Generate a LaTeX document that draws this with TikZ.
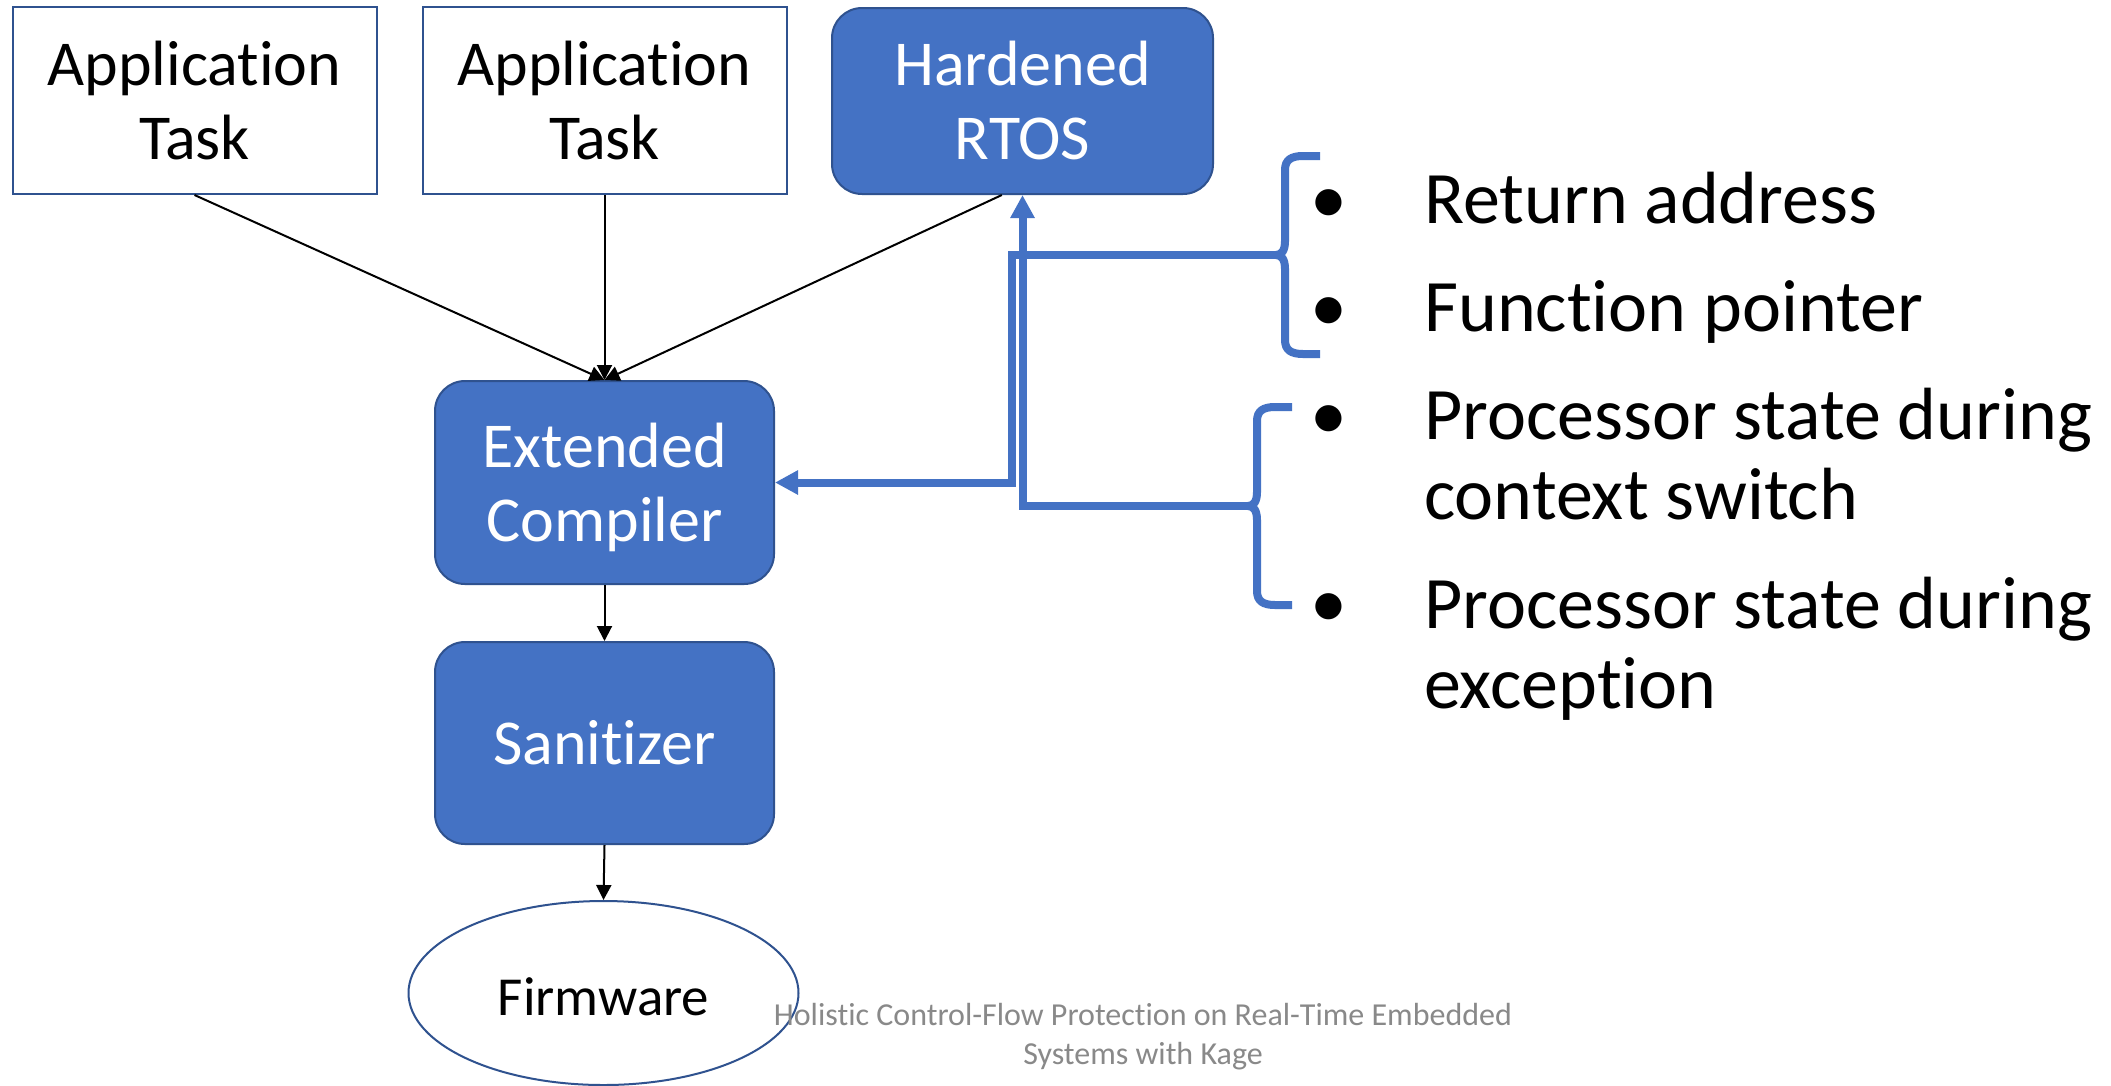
\documentclass[tikz,border=0pt]{standalone}
\usepackage{fontspec}
\setmainfont{Carlito}[Ligatures=NoCommon]
\usetikzlibrary{arrows.meta,shapes.geometric,calc}
\definecolor{accent}{HTML}{4472C4}
\definecolor{edge}{HTML}{2F528F}
\definecolor{note}{HTML}{898989}
% strut that centres a text line on its capitals
\newcommand\boxstrut{\rule[-15pt]{0pt}{73pt}}
\tikzset{
  basebox/.style={draw=edge, line width=2pt, inner sep=0pt, align=center,
    font=\fontsize{64}{74}\selectfont},
  task/.style={basebox, fill=white, text=black,
    minimum width=364pt, minimum height=187pt},
  stage/.style={basebox, fill=accent, text=white, rounded corners=30pt,
    minimum width=339pt, minimum height=203pt},
  link/.style={draw=black, line width=2pt, -{Triangle[length=15pt,width=15pt]}},
  flow/.style={draw=accent, line width=8pt, line join=miter,
    -{Triangle[length=23pt,width=23pt]}},
  bracepath/.style={draw=accent, line width=8pt},
  dot/.style={anchor=base, inner sep=0pt, font=\fontsize{74}{80}\selectfont},
  item/.style={anchor=base west, inner sep=0pt, align=left,
    font=\fontsize{74}{80}\selectfont},
  pics/lbrace/.style={code={
    \draw[bracepath] (35,-99) -- (18,-99) .. controls (6,-99) and (0,-95) .. (0,-85)
      -- (0,-14) .. controls (0,-5) and (-3,0) .. (-9,0)
      .. controls (-3,0) and (0,5) .. (0,14)
      -- (0,85) .. controls (0,95) and (6,99) .. (18,99) -- (35,99);
  }}
}
\begin{document}
\begin{tikzpicture}[x=1pt,y=-1pt]
\useasboundingbox (0,0) rectangle (2111,1085);
\fill[white] (0,0) rectangle (2111,1085);

% sources
\node[task] (app1) at (194.5,100.5) {\boxstrut Application\\\boxstrut Task};
\node[task] (app2) at (604.5,100.5) {\boxstrut Application\\\boxstrut Task};
\node[stage, minimum width=381pt, minimum height=186pt] (rtos) at (1022.5,101)
  {\boxstrut Hardened\\\boxstrut RTOS};

% toolchain
\node[stage] (comp) at (604.5,482.5) {\boxstrut Extended\\\boxstrut Compiler};
\node[stage, minimum height=202pt] (san) at (604.5,743) {\boxstrut Sanitizer};
\node[ellipse, draw=edge, line width=2pt, fill=white, inner sep=0pt,
  minimum width=390pt, minimum height=184pt,
  font=\fontsize{55}{66}\selectfont] (firm) at (603.5,993)
  {\rule[-6pt]{0pt}{56pt}Firmware};

% inputs to the compiler
\coordinate (rtosfoot) at ($(rtos.south west)!0.446!(rtos.south east)$);
\draw[link] (app1.south) -- (comp.north);
\draw[link] (app2.south) -- (comp.north);
\draw[link] (rtosfoot) -- (comp.north);
\draw[link] (comp.south) -- (san.north);
\draw[link] (san.south) -- (firm.north);

% protected data (multi-line items sit on the baseline of their last line)
\node[dot] (d1) at (1329,223) {•};
\node[item] (t1) at (1424,223) {Return address};
\node[dot] (d2) at (1329,331) {•};
\node[item] (t2) at (1424,331) {Function pointer};
\node[dot] (d3) at (1329,439) {•};
\node[item] (t3) at (1424,519) {Processor state during\\context switch};
\node[dot] (d4) at (1329,627) {•};
\node[item] (t4) at (1424,708) {Processor state during\\exception};

% grouping braces and their links
\pic at (1285,255) {lbrace};
\pic at (1257,506) {lbrace};
\coordinate (tipA) at (1276,255);
\coordinate (bendA) at (1011.5,255);
\coordinate (tipB) at (1248,506);
\draw[flow] (tipA) -- (bendA) |- (comp.east);
\draw[flow] (tipB) -| (rtos.south);

% footer
\node[anchor=base, inner sep=0pt, align=center, text=note,
  font=\fontsize{32}{39}\selectfont] (foot) at (1143,1064)
  {Holistic Control-Flow Protection on Real-Time Embedded\\Systems with Kage};
\end{tikzpicture}
\end{document}
